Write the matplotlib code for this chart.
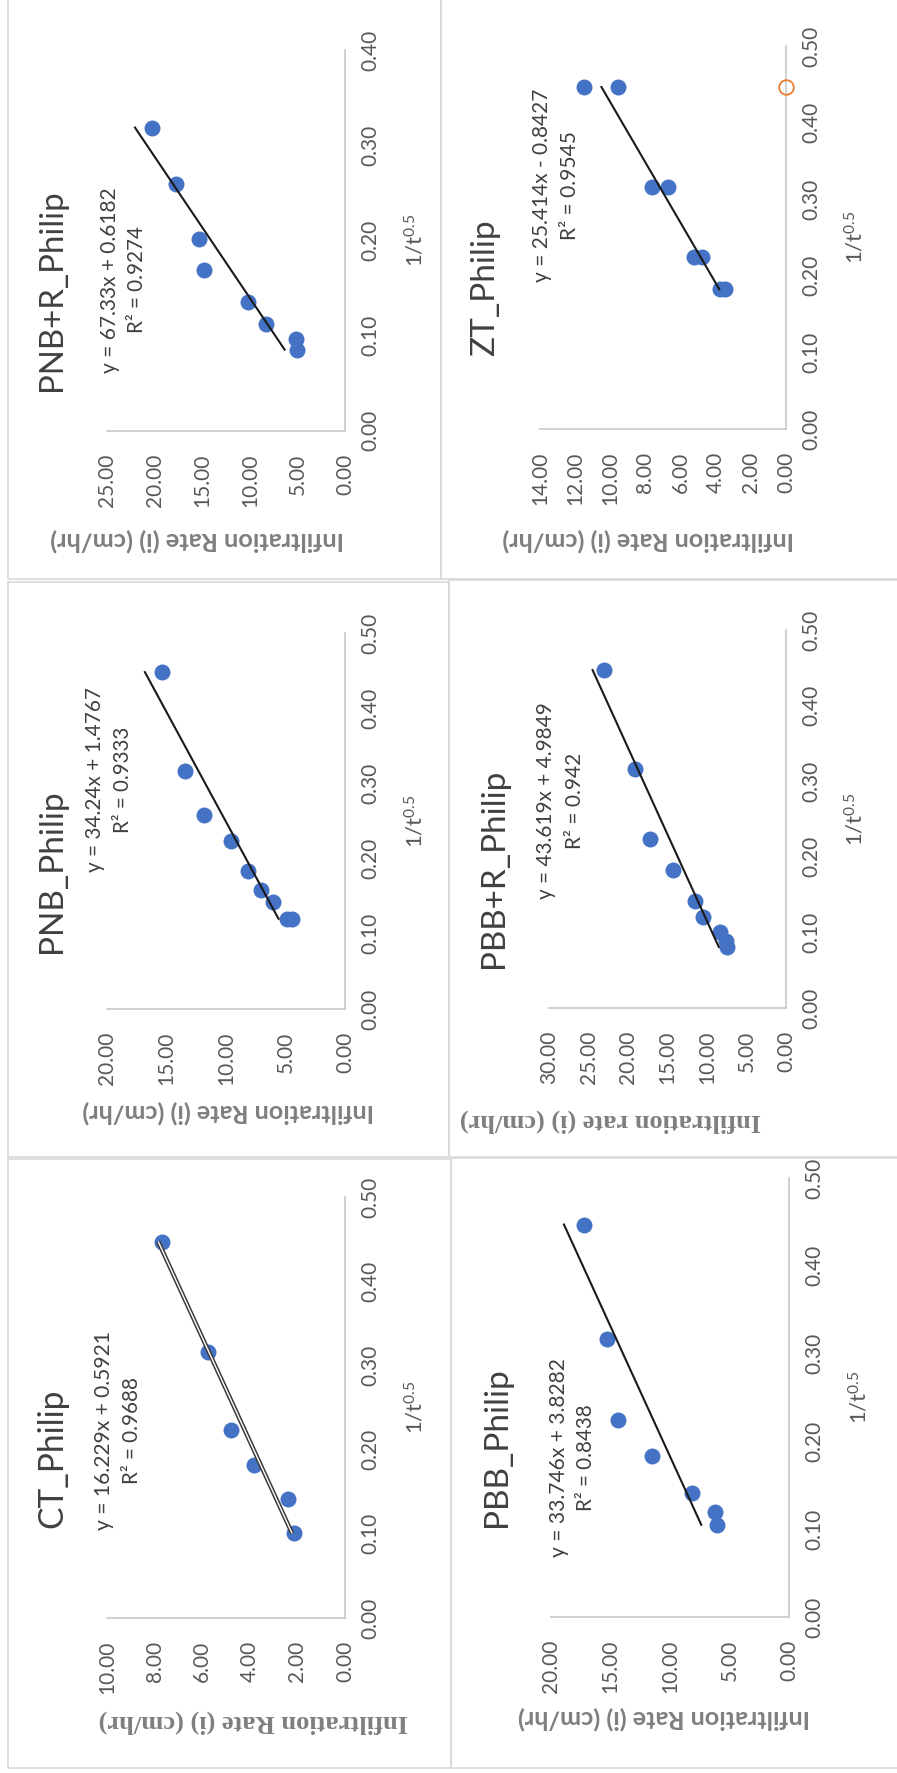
import matplotlib
matplotlib.use('Agg')
import matplotlib.pyplot as plt
import matplotlib.patheffects as pe
from matplotlib.patches import Rectangle
from matplotlib.ticker import FormatStrFormatter
import numpy as np

# ---------------- data ----------------
# x = 1/t^0.5 , y = infiltration rate (cm/hr)
CT_x = [0.447, 0.316, 0.223, 0.182, 0.1415, 0.1005]
CT_y = [7.67, 5.75, 4.80, 3.83, 2.41, 2.13]

PNB_x = [0.448, 0.317, 0.258, 0.224, 0.183, 0.158, 0.142, 0.120, 0.120]
PNB_y = [15.37, 13.43, 11.88, 9.61, 8.15, 7.08, 6.04, 4.86, 4.49]

PNBR_x = [0.3185, 0.259, 0.2008, 0.169, 0.135, 0.112, 0.096, 0.085]
PNBR_y = [20.28, 17.76, 15.31, 14.79, 10.24, 8.32, 5.17, 5.07]

PBB_x = [0.447, 0.317, 0.224, 0.183, 0.1416, 0.120, 0.105]
PBB_y = [17.25, 15.29, 14.36, 11.50, 8.13, 6.26, 6.09]

PBBR_x = [0.447, 0.316, 0.224, 0.182, 0.142, 0.120, 0.1005, 0.0886, 0.0807]
PBBR_y = [22.98, 19.15, 17.26, 14.35, 11.49, 10.56, 8.30, 7.60, 7.47]

ZT_x = [0.4465, 0.4465, 0.3165, 0.3165, 0.224, 0.224, 0.1825, 0.1825]
ZT_y = [11.48, 9.58, 7.61, 6.70, 5.24, 4.76, 3.76, 3.47]
ZT2_x = [0.4465]
ZT2_y = [0.0]

# trendline coefficients (slope, intercept) as printed on the charts
CT_fit = (16.229, 0.5921)
PNB_fit = (34.24, 1.4767)
PNBR_fit = (67.33, 0.6182)
PBB_fit = (33.746, 3.8282)
PBBR_fit = (43.619, 4.9849)
ZT_fit = (25.414, -0.8427)

titles = ['PNB+R_Philip', 'ZT_Philip', 'PNB_Philip', 'PBB+R_Philip', 'CT_Philip', 'PBB_Philip']
equations = ['y = 67.33x + 0.6182', 'y = 25.414x - 0.8427', 'y = 34.24x + 1.4767',
             'y = 43.619x + 4.9849', 'y = 16.229x + 0.5921', 'y = 33.746x + 3.8282']
r2_labels = ['R² = 0.9274', 'R² = 0.9545', 'R² = 0.9333', 'R² = 0.942', 'R² = 0.9688', 'R² = 0.8438']
ylabels = ['Infiltration Rate (i) (cm/hr)', 'Infiltration Rate (i) (cm/hr)', 'Infiltration Rate (i) (cm/hr)',
           'Infiltration rate (i) (cm/hr)', 'Infiltration Rate (i) (cm/hr)', 'Infiltration Rate (i) (cm/hr)']
xlabel = '1/t$^{0.5}$'
y_max = [25, 14, 20, 30, 10, 20]
y_step = [5, 2, 5, 5, 2, 5]
x_max = [0.4, 0.5, 0.5, 0.5, 0.5, 0.5]
x_step = 0.1

series_x = [PNBR_x, ZT_x, PNB_x, PBBR_x, CT_x, PBB_x]
series_y = [PNBR_y, ZT_y, PNB_y, PBBR_y, CT_y, PBB_y]
fits = [PNBR_fit, ZT_fit, PNB_fit, PBBR_fit, CT_fit, PBB_fit]

# ---------------- layout (pixels in the 897x1773 picture) ----------------
W, H = 897, 1773
plt.rcParams['font.family'] = ['Lato', 'DejaVu Sans']
plt.rcParams['mathtext.default'] = 'regular'

fig = plt.figure(figsize=(W / 100, H / 100), dpi=100)
fig.patch.set_facecolor('white')


def fx(x):
    return x / W


def fy(y):
    return 1 - y / H


# panel borders (x0, y0, x1, y1)
borders = [(8, -5, 441, 579), (441, -5, 905, 579),
           (8, 582, 449, 1157), (449, 580, 905, 1157),
           (8, 1159, 451, 1768), (451, 1158, 905, 1768)]
# plot areas: (x of y-max, x of zero line, y of x-max, y of zero line)
areas = [(107, 345, 50, 430.5), (540, 786, 46, 429),
         (107, 345, 633, 1009), (549, 786, 630, 1008),
         (107, 345, 1197, 1618), (551, 789, 1178, 1617)]
title_pos = [(52, 290), (485, 288), (52, 871), (494, 868), (52, 1458), (497, 1447)]
title_len = [201, 136, 163, 199, 139, 159]
eq_pos = [(110, 280), (542, 185), (95, 780), (546, 801), (104, 1430), (559, 1458)]
eq_len = [186, 193, 184, 197, 199, 199]
r2_pos = [(137, 280), (570, 185), (123, 780), (575, 801), (132, 1430), (586, 1458)]
r2_len = [107, 109, 107, 96, 107, 107]
xl_pos = [(415, 240), (855, 237), (415, 821), (855, 819), (415, 1407), (859, 1397)]
yl_pos = [(197, 540), (648, 540), (228, 1112), (610, 1121), (253, 1722), (664, 1718)]
yl_len = [295, 293, 293, 302, 310, 294]
yl_serif = [False, False, False, True, True, False]

BLUE = '#4472C4'
ORANGE = '#ED7D31'
AXC = '#C8C8C8'
TICKC = '#595959'
TXT = '#404040'

for b in borders:
    x0, y0, x1, y1 = b
    fig.add_artist(Rectangle((fx(x0), fy(y1)), (x1 - x0) / W, (y1 - y0) / H,
                             transform=fig.transFigure, fill=False,
                             edgecolor='#D9D9D9', lw=1.2))

to_fit = []
for k in range(6):
    xa0, xa1, ya0, ya1 = areas[k]
    ax = fig.add_axes([fx(xa0), fy(ya1), (xa1 - xa0) / W, (ya1 - ya0) / H])
    ax.patch.set_alpha(0)
    ax.set_xlim(y_max[k], 0)
    ax.set_ylim(0, x_max[k])
    ax.set_xticks(np.arange(0, y_max[k] + 1e-9, y_step[k]))
    ax.set_yticks(np.arange(0, x_max[k] + 1e-9, x_step))
    ax.xaxis.set_major_formatter(FormatStrFormatter('%.2f'))
    ax.yaxis.set_major_formatter(FormatStrFormatter('%.2f'))
    ax.yaxis.tick_right()
    for s in ['left', 'top']:
        ax.spines[s].set_visible(False)
    for s in ['right', 'bottom']:
        ax.spines[s].set_color(AXC)
        ax.spines[s].set_linewidth(1.2)
    ax.tick_params(axis='both', length=0, labelsize=15, labelcolor=TICKC)
    ax.tick_params(axis='x', pad=16.5, labelrotation=90)
    ax.tick_params(axis='y', pad=11, labelrotation=90)
    for t in ax.yaxis.get_major_ticks():
        t.label2.set_va('center')

    xs = np.array(series_x[k])
    ys = np.array(series_y[k])
    ax.plot(ys, xs, 'o', ms=11.5, color=BLUE, mec=BLUE, mew=0, zorder=3, clip_on=False)
    if k == 1:
        ax.plot(ZT2_y, ZT2_x, 'o', ms=10.5, mfc='none', mec=ORANGE, mew=1.3,
                zorder=3, clip_on=False)
    m, c = fits[k]
    tx = np.array([xs.min(), xs.max()])
    if k == 4:
        ax.plot(m * tx + c, tx, color='white', lw=1.0, zorder=4, solid_capstyle='butt',
                path_effects=[pe.Stroke(linewidth=3.2, foreground='#3a3a3a'), pe.Normal()])
    else:
        ax.plot(m * tx + c, tx, color='#1a1a1a', lw=1.5, zorder=4)

    t1 = fig.text(fx(title_pos[k][0]), fy(title_pos[k][1]), titles[k], rotation=90,
                  ha='center', va='center', fontsize=26, color=TXT)
    t2 = fig.text(fx(eq_pos[k][0]), fy(eq_pos[k][1]), equations[k], rotation=90,
                  ha='center', va='center', fontsize=17, color=TXT)
    t3 = fig.text(fx(r2_pos[k][0]), fy(r2_pos[k][1]), r2_labels[k], rotation=90,
                  ha='center', va='center', fontsize=17, color=TXT)
    t4 = fig.text(fx(xl_pos[k][0]), fy(xl_pos[k][1]), xlabel, rotation=90,
                  ha='center', va='center', fontsize=15, color=TICKC)
    fam = ['Liberation Serif', 'DejaVu Serif'] if yl_serif[k] else ['Lato', 'DejaVu Sans']
    t5 = fig.text(fx(yl_pos[k][0]), fy(yl_pos[k][1]), ylabels[k], rotation=180,
                  ha='center', va='center', fontsize=15, color='#7F7F7F',
                  fontweight='bold', family=fam)
    to_fit += [(t1, title_len[k], True), (t2, eq_len[k], True), (t3, r2_len[k], True),
               (t4, 54, True), (t5, yl_len[k], False)]

fig.canvas.draw()
r = fig.canvas.get_renderer()
for t, L, vert in to_fit:
    bb = t.get_window_extent(r)
    cur = bb.height if vert else bb.width
    if cur > 0:
        t.set_fontsize(t.get_fontsize() * L / cur)

fig.savefig('out.png', dpi=100, facecolor='white')
